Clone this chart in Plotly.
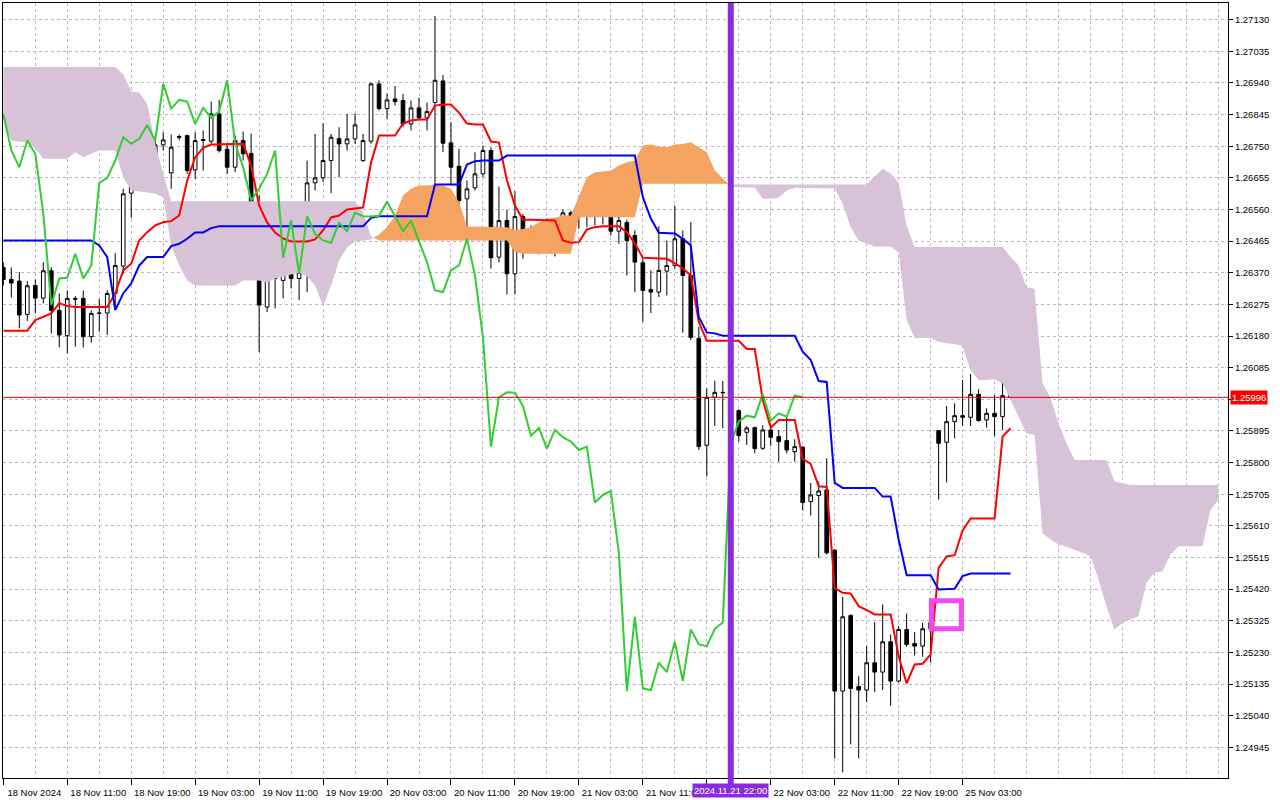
import plotly.graph_objects as go

# GBPUSD-style H1 chart, bar 0 = 18 Nov 2024 03:00, last bar (126) = 25 Nov 2024 09:00
# all prices are kept in points (1e-5) and divided when plotted
OPEN = [
    126386, 126350, 126345, 126245, 126332, 126294, 126376, 126257, 126181, 126293,
    126293, 126178, 126248, 126249, 126308, 126390, 126609, 126652, 126797, 126709,
    126754, 126670, 126779, 126782, 126679, 126767, 126765, 126847, 126741, 126687,
    126767, 126728, 126551, 126267, 126353, 126347, 126437, 126353, 126387, 126640,
    126655, 126707, 126773, 126757, 126772, 126707, 126765, 126937, 126863, 126892,
    126887, 126817, 126865, 126835, 126881, 126946, 126760, 126690, 126592, 126625,
    126667, 126737, 126417, 126527, 126367, 126539, 126490, 126470, 126460, 126467,
    126494, 126550, 126545, 126545, 126540, 126584, 126544, 126495, 126521, 126482,
    126400, 126320, 126312, 126375, 126392, 126472, 126362, 126173, 125852, 125996,
    126011, 126010, 125956, 125891, 125905, 125843, 125898, 125878, 125866, 125833,
    125846, 125683, 125701, 125718, 125537, 125114, 125341, 125128, 125117, 125199,
    125171, 125262, 125144, 125299, 125257, 125249, 125301, 125896, 125861, 125923,
    125941, 125936, 126005, 125928, 125948, 125938, 126008,
]
HIGH = [
    126401, 126386, 126372, 126345, 126350, 126402, 126387, 126308, 126317, 126300,
    126317, 126257, 126291, 126317, 126429, 126622, 126669, 126812, 126860, 126777,
    126792, 126785, 126785, 126785, 126792, 126797, 126884, 126889, 126757, 126782,
    126794, 126788, 126602, 126422, 126427, 126452, 126542, 126437, 126707, 126787,
    126819, 126787, 126807, 126847, 126848, 126787, 126941, 126948, 126908, 126931,
    126907, 126887, 126896, 126881, 127141, 126964, 126822, 126742, 126647, 126732,
    126752, 126747, 126629, 126559, 126615, 126547, 126512, 126477, 126534, 126517,
    126559, 126557, 126585, 126577, 126602, 126602, 126575, 126547, 126530, 126497,
    126412, 126377, 126510, 126467, 126572, 126497, 126522, 126208, 126023, 126046,
    126045, 126030, 125960, 125910, 125908, 125913, 125908, 125898, 125938, 125870,
    125850, 125739, 125743, 125813, 125540, 125397, 125345, 125159, 125249, 125321,
    125374, 125284, 125309, 125347, 125291, 125319, 125345, 125898, 125970, 125978,
    126048, 126066, 126020, 125963, 126003, 126048, 126010,
]
LOW = [
    126332, 126296, 126203, 126225, 126248, 126278, 126188, 126146, 126128, 126148,
    126146, 126160, 126193, 126183, 126267, 126367, 126535, 126632, 126707, 126697,
    126737, 126622, 126767, 126667, 126652, 126677, 126757, 126731, 126667, 126672,
    126707, 126536, 126132, 126252, 126263, 126293, 126323, 126288, 126312, 126617,
    126642, 126609, 126657, 126737, 126757, 126702, 126757, 126857, 126833, 126872,
    126807, 126797, 126827, 126797, 126637, 126732, 126637, 126567, 126487, 126617,
    126657, 126382, 126401, 126305, 126305, 126412, 126447, 126425, 126452, 126419,
    126482, 126505, 126502, 126507, 126512, 126515, 126482, 126457, 126362, 126312,
    126223, 126249, 126297, 126302, 126383, 126190, 126168, 125838, 125758, 125910,
    125903, 125920, 125863, 125853, 125828, 125838, 125850, 125803, 125828, 125803,
    125656, 125641, 125514, 125524, 124912, 124870, 124954, 124912, 125081, 125111,
    125117, 125070, 125140, 125247, 125221, 125217, 125200, 125689, 125740, 125873,
    125910, 125910, 125923, 125905, 125880, 125898, 125990,
]
CLOSE = [
    126350, 126339, 126243, 126331, 126294, 126376, 126257, 126183, 126293, 126291,
    126178, 126248, 126249, 126308, 126392, 126607, 126652, 126800, 126711, 126754,
    126769, 126747, 126777, 126677, 126767, 126770, 126847, 126737, 126687, 126767,
    126727, 126548, 126273, 126353, 126355, 126427, 126353, 126392, 126640, 126655,
    126707, 126777, 126757, 126772, 126814, 126767, 126937, 126863, 126889, 126884,
    126817, 126865, 126835, 126854, 126948, 126759, 126687, 126587, 126622, 126667,
    126737, 126415, 126527, 126367, 126539, 126487, 126467, 126460, 126520, 126495,
    126550, 126540, 126539, 126541, 126584, 126540, 126495, 126527, 126467, 126402,
    126317, 126312, 126377, 126392, 126472, 126362, 126176, 125848, 125996, 126011,
    126010, 125970, 125881, 125904, 125842, 125898, 125876, 125863, 125838, 125848,
    125680, 125703, 125715, 125529, 125114, 125337, 125122, 125117, 125199, 125171,
    125262, 125144, 125299, 125254, 125249, 125301, 125320, 125858, 125923, 125941,
    125936, 126005, 125926, 125948, 125938, 126001, 125996,
]

# Ichimoku lines
TENKAN = [
    126196, 126196, 126196, 126196, 126228, 126237, 126248, 126279, 126270, 126267,
    126267, 126267, 126267, 126267, 126308, 126377, 126397, 126467, 126492, 126512,
    126522, 126525, 126542, 126647, 126717, 126745, 126755, 126755, 126755, 126755,
    126757, 126692, 126572, 126521, 126491, 126473, 126464, 126464, 126464, 126470,
    126497, 126536, 126542, 126560, 126563, 126566, 126701, 126782, 126782, 126782,
    126818, 126827, 126830, 126830, 126872, 126875, 126875, 126851, 126818, 126815,
    126815, 126764, 126761, 126647, 126572, 126529, 126529, 126529, 126529, 126527,
    126467, 126460, 126462, 126500, 126507, 126510, 126510, 126510, 126492, 126458,
    126415, 126414, 126414, 126412, 126398, 126383, 126362, 126222, 126166, 126166,
    126166, 126166, 126166, 126141, 126141, 125988, 125905, 125928, 125928, 125928,
    125811, 125796, 125729, 125727, 125424, 125409, 125407, 125369, 125357, 125344,
    125344, 125344, 125219, 125137, 125194, 125196, 125224, 125484, 125518, 125522,
    125596, 125632, 125632, 125632, 125632, 125878, 125903,
]
KIJUN = [
    126467, 126467, 126467, 126467, 126467, 126467, 126467, 126467, 126467, 126467,
    126467, 126467, 126452, 126417, 126258, 126308, 126338, 126392, 126417, 126417,
    126417, 126450, 126457, 126472, 126491, 126491, 126504, 126510, 126510, 126510,
    126510, 126510, 126510, 126510, 126510, 126510, 126510, 126510, 126510, 126510,
    126510, 126510, 126510, 126510, 126510, 126510, 126535, 126540, 126540, 126540,
    126540, 126540, 126540, 126540, 126635, 126635, 126635, 126635, 126695, 126705,
    126707, 126707, 126707, 126722, 126722, 126722, 126722, 126722, 126722, 126722,
    126722, 126722, 126722, 126722, 126722, 126722, 126722, 126722, 126722, 126722,
    126597, 126533, 126490, 126490, 126488, 126472, 126452, 126237, 126191, 126188,
    126181, 126181, 126181, 126181, 126181, 126181, 126181, 126181, 126181, 126181,
    126133, 126108, 126045, 126042, 125739, 125724, 125724, 125724, 125724, 125724,
    125698, 125698, 125569, 125462, 125462, 125462, 125462, 125419, 125419, 125421,
    125459, 125467, 125467, 125467, 125467, 125467, 125467,
]
# Senkou spans, 153 bars (26 bars past the last candle)
SPAN_A = [
    126827, 126767, 126764, 126762, 126745, 126712, 126712, 126712, 126712, 126732,
    126717, 126727, 126737, 126737, 126737, 126657, 126617, 126614, 126612, 126608,
    126597, 126452, 126392, 126347, 126332, 126332, 126332, 126332, 126332, 126332,
    126347, 126347, 126347, 126341, 126353, 126359, 126365, 126371, 126359, 126332,
    126270, 126332, 126407, 126446, 126464, 126467, 126470, 126485, 126507, 126542,
    126602, 126622, 126632, 126632, 126635, 126632, 126622, 126582, 126509, 126509,
    126507, 126507, 126507, 126507, 126497, 126502, 126507, 126522, 126532, 126535,
    126542, 126542, 126602, 126657, 126672, 126674, 126677, 126692, 126702, 126707,
    126752, 126755, 126749, 126747, 126755, 126757, 126762, 126747, 126732, 126677,
    126653, 126629, 126627, 126627, 126626, 126592, 126592, 126596, 126617, 126625,
    126625, 126625, 126625, 126625, 126623, 126577, 126507, 126467, 126458, 126449,
    126449, 126449, 126431, 126228, 126174, 126174, 126174, 126163, 126158, 126156,
    126150, 126078, 126048, 126048, 126050, 126038, 125988, 125938, 125888, 125883,
    125589, 125569, 125554, 125547, 125539, 125529, 125519, 125449, 125369, 125299,
    125319, 125329, 125339, 125439, 125469, 125474, 125524, 125549, 125549, 125549,
    125549, 125658, 125688,
]
SPAN_B = [
    126988, 126988, 126988, 126988, 126988, 126988, 126988, 126988, 126988, 126988,
    126988, 126988, 126988, 126988, 126988, 126966, 126914, 126911, 126877, 126757,
    126667, 126585, 126585, 126585, 126585, 126585, 126585, 126585, 126585, 126585,
    126585, 126585, 126585, 126585, 126585, 126585, 126585, 126585, 126585, 126585,
    126585, 126585, 126585, 126585, 126585, 126551, 126479, 126467, 126467, 126467,
    126467, 126467, 126467, 126467, 126467, 126467, 126467, 126467, 126467, 126467,
    126467, 126467, 126467, 126467, 126432, 126427, 126427, 126427, 126427, 126427,
    126427, 126427, 126537, 126537, 126537, 126537, 126537, 126537, 126537, 126537,
    126637, 126637, 126637, 126637, 126637, 126637, 126637, 126637, 126637, 126637,
    126637, 126635, 126635, 126635, 126635, 126635, 126635, 126635, 126635, 126635,
    126635, 126635, 126635, 126635, 126635, 126635, 126635, 126635, 126635, 126659,
    126682, 126668, 126641, 126512, 126447, 126447, 126447, 126447, 126447, 126447,
    126447, 126447, 126447, 126447, 126447, 126447, 126417, 126392, 126327, 126322,
    126038, 125993, 125918, 125858, 125808, 125808, 125808, 125808, 125808, 125743,
    125738, 125733, 125733, 125733, 125733, 125733, 125733, 125733, 125733, 125733,
    125733, 125733, 125733,
]

TICK_BARS = [0, 8, 16, 24, 32, 40, 48, 56, 64, 72, 80, 88, 96, 104, 112, 120]
# the 21 Nov 19:00 label sits under the marker label, so it is left blank
TICK_TEXT = ["18 Nov 2024", "18 Nov 11:00", "18 Nov 19:00", "19 Nov 03:00",
             "19 Nov 11:00", "19 Nov 19:00", "20 Nov 03:00", "20 Nov 11:00",
             "20 Nov 19:00", "21 Nov 03:00", "21 Nov 11:00", "",
             "22 Nov 03:00", "22 Nov 11:00", "22 Nov 19:00", "25 Nov 03:00"]
PRICE_TICKS = [124945, 125040, 125135, 125230, 125325, 125420, 125515, 125610,
               125705, 125800, 125895, 125990, 126085, 126180, 126275, 126370,
               126465, 126560, 126655, 126750, 126845, 126940, 127035, 127130]
LAST_PRICE = 125996
MARKED_BAR = 91           # vertical line, 2024.11.21 22:00
MARKED_LABEL = "2024.11.21 22:00"
SHIFT = 26

GRID = "#BDB6C6"
ORANGE = "#F4A460"
THISTLE = "#D8C2D8"


def px(v):
    return [p / 1e5 for p in v]


def cloud_pieces(a, b):
    # split the cloud wherever span A crosses span B
    pieces = []
    xs, ta, tb = [0], [a[0]], [b[0]]
    up = a[0] >= b[0]
    for i in range(1, len(a)):
        now = a[i] >= b[i]
        if now != up:
            d0, d1 = a[i - 1] - b[i - 1], a[i] - b[i]
            t = d0 / (d0 - d1)
            xc = i - 1 + t
            yc = a[i - 1] + t * (a[i] - a[i - 1])
            xs.append(xc); ta.append(yc); tb.append(yc)
            pieces.append((up, xs, ta, tb))
            xs, ta, tb = [xc], [yc], [yc]
            up = now
        xs.append(i); ta.append(a[i]); tb.append(b[i])
    pieces.append((up, xs, ta, tb))
    return pieces


fig = go.Figure()

for up, xs, ta, tb in cloud_pieces(SPAN_A, SPAN_B):
    fig.add_trace(go.Scatter(
        x=xs + xs[::-1],
        y=px(ta + tb[::-1]),
        fill="toself", mode="lines", line=dict(width=0),
        fillcolor=ORANGE if up else THISTLE,
        hoverinfo="skip",
    ))

bars = list(range(len(CLOSE)))
fig.add_trace(go.Candlestick(
    x=bars, open=px(OPEN), high=px(HIGH), low=px(LOW), close=px(CLOSE),
    increasing=dict(line=dict(color="black", width=1), fillcolor="white"),
    decreasing=dict(line=dict(color="black", width=1), fillcolor="black"),
    whiskerwidth=0,
))

fig.add_trace(go.Scatter(x=bars, y=px(TENKAN), mode="lines",
                         line=dict(color="#FF0000", width=2), hoverinfo="skip"))
fig.add_trace(go.Scatter(x=bars, y=px(KIJUN), mode="lines",
                         line=dict(color="#0000FF", width=2), hoverinfo="skip"))
# chikou span: closes drawn 26 bars back
fig.add_trace(go.Scatter(x=[i - SHIFT for i in bars[SHIFT:]], y=px(CLOSE[SHIFT:]),
                         mode="lines", line=dict(color="#32CD32", width=2),
                         hoverinfo="skip"))

# last price line
fig.add_shape(type="line", xref="paper", x0=0, x1=1, y0=LAST_PRICE / 1e5, y1=LAST_PRICE / 1e5,
              line=dict(color="#E00000", width=1), layer="above")
# vertical marker
fig.add_shape(type="line", x0=MARKED_BAR, x1=MARKED_BAR, yref="paper", y0=-0.012, y1=1,
              line=dict(color="#8A2BE2", width=6), layer="above")
# magenta box
fig.add_shape(type="rect", x0=116.1, x1=119.85, y0=1.25301, y1=1.25385,
              line=dict(color="#F04AF0", width=5), layer="above")

fig.add_annotation(xref="paper", x=1, xanchor="left", xshift=2, y=LAST_PRICE / 1e5,
                   text=f"{LAST_PRICE / 1e5:.5f}", showarrow=False, bgcolor="#FF0000",
                   font=dict(color="white", size=9.5, family="Liberation Sans"), borderpad=1)
fig.add_annotation(x=MARKED_BAR, yref="paper", y=0, yanchor="top", yshift=-5,
                   text=MARKED_LABEL, showarrow=False, bgcolor="#8A2BE2",
                   font=dict(color="white", size=9.5, family="Liberation Sans"), borderpad=1)

fig.update_layout(
    width=1280, height=800,
    margin=dict(l=2, r=52, t=2, b=21),
    paper_bgcolor="white", plot_bgcolor="white",
    showlegend=False,
    boxgap=0.35,
    font=dict(family="Liberation Sans", size=9.5, color="black"),
    xaxis=dict(
        range=[-0.04, 153.2],
        tickmode="array", tickvals=TICK_BARS, ticktext=TICK_TEXT,
        ticks="outside", ticklen=6, tickcolor="black", ticklabelshift=31,
        showline=True, mirror=True, linecolor="black", linewidth=1,
        showgrid=True, gridcolor=GRID, griddash="3px,3px", gridwidth=1,
        minor=dict(tickmode="linear", tick0=0, dtick=4, showgrid=True,
                   gridcolor=GRID, griddash="3px,3px", ticks=""),
        zeroline=False, rangeslider=dict(visible=False), fixedrange=True,
    ),
    yaxis=dict(
        side="right", range=[1.24853, 1.27180],
        tickmode="array", tickvals=px(PRICE_TICKS),
        ticktext=["" if p == 125990 else f"{p / 1e5:.5f}" for p in PRICE_TICKS],
        ticks="outside", ticklen=4, tickcolor="black",
        showline=True, mirror=True, linecolor="black", linewidth=1,
        showgrid=True, gridcolor=GRID, griddash="3px,3px", gridwidth=1,
        zeroline=False, fixedrange=True,
    ),
)

# page body has a default 8px margin; drop it so the figure sits at the window origin
fig.write_html("out.html", config={"displayModeBar": False},
               post_script="document.body.style.margin='0';")
